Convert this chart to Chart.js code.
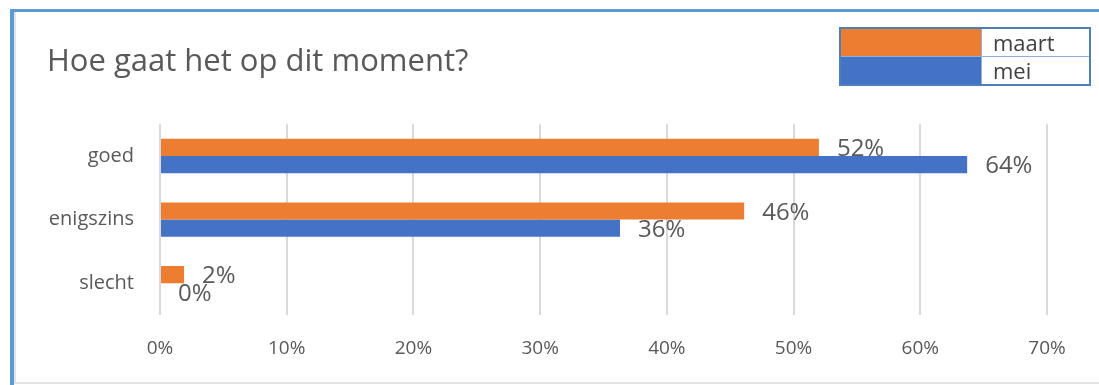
<!DOCTYPE html>
<html>
<head>
<meta charset="utf-8">
<script src="https://cdn.jsdelivr.net/npm/chart.js@4"></script>
<style>
  html, body { margin:0; padding:0; background:#fff; overflow:hidden; }
  #wrap { position:relative; width:1099px; height:385px; }
  #frame { position:absolute; left:10px; top:9px; width:1095px; height:374px;
           border-left:4px solid #5b9bd5; border-top:3px solid #5b9bd5; pointer-events:none; }
  #frame2 { position:absolute; left:14px; top:12px; width:1095px; height:370px;
           border-left:2px solid #e3e3e3; border-bottom:2px solid #e3e3e3; pointer-events:none; }
  #box { position:absolute; left:0; top:0; width:1099px; height:385px; }
  #legend { position:absolute; left:839px; top:27px; }
  #legend table { border-collapse:collapse; border:2px solid #4f7fb8; }
  #legend td { padding:0; height:27px; border:1px solid #8db0dc; }
  #legend td.sw { width:140px; }
  #legend td.lb { width:96px; padding-left:11px; font:22px "Open Sans", sans-serif; color:#404040; line-height:27px; }
</style>
</head>
<body>
<div id="wrap">
  <div id="box"><canvas id="myChart"></canvas></div>
  <div id="frame"></div>
  <div id="frame2"></div>
  <div id="legend"></div>
</div>
<script>
var categories = ['goed', 'enigszins', 'slecht']
var maart = [52.0, 46.1, 1.9]
var mei = [63.7, 36.3, 0]
var seriesNames = ['maart', 'mei']
var xTicks = [0, 10, 20, 30, 40, 50, 60, 70]

var textGray = '#595959'

// labels at the end of each bar, like excel does it
var barLabels = {
    id: 'barLabels',
    afterDatasetsDraw: function(chart){
        var ctx = chart.ctx
        ctx.save()
        ctx.font = '24px "Open Sans"'
        ctx.fillStyle = textGray
        ctx.textAlign = 'left'
        ctx.textBaseline = 'middle'
        chart.data.datasets.forEach(function(ds, i){
            var meta = chart.getDatasetMeta(i)
            meta.data.forEach(function(bar, j){
                ctx.fillText(Math.round(ds.data[j]) + '%', bar.x + 18, bar.y + 2)
            })
        })
        ctx.restore()
    }
}

var ctx = document.getElementById('myChart').getContext('2d')
var chart1 = new Chart(ctx, {
    type: 'bar',
    plugins: [barLabels],
    data: {
        labels: categories,
        datasets: [{
            label: seriesNames[0],
            data: maart,
            backgroundColor: '#ed7d31',
            categoryPercentage: 0.54,
            barPercentage: 1
        }, {
            label: seriesNames[1],
            data: mei,
            backgroundColor: '#4472c4',
            categoryPercentage: 0.54,
            barPercentage: 1
        }]
    },
    options: {
        indexAxis: 'y',
        responsive: true,
        maintainAspectRatio: false,
        animation: false,
        layout: {
            padding: { left: 47, right: 52, top: 0, bottom: 0 }
        },
        scales: {
            x: {
                min: 0,
                max: 70,
                afterBuildTicks: function(axis){
                    axis.ticks = xTicks.map(function(v){ return { value: v } })
                },
                afterFit: function(axis){ axis.height = 70 },
                grid: { color: '#d9d9d9', lineWidth: 2, drawTicks: false },
                border: { display: false },
                ticks: {
                    padding: 22,
                    color: textGray,
                    font: { family: 'Open Sans', size: 19 },
                    callback: function(v){ return v + '%' }
                }
            },
            y: {
                afterFit: function(axis){ axis.width = 113 },
                grid: { display: false, drawTicks: false },
                border: { display: false },
                ticks: {
                    padding: 26,
                    color: textGray,
                    font: { family: 'Open Sans', size: 20 }
                }
            }
        },
        plugins: {
            legend: { display: false },
            tooltip: { enabled: false },
            title: {
                display: true,
                text: 'Hoe gaat het op dit moment?',
                align: 'start',
                color: textGray,
                font: { family: 'Open Sans', size: 31, weight: 'normal' },
                padding: { top: 44, bottom: 43 }
            }
        }
    }
})

// html legend, built from the datasets
var html = '<table>'
chart1.data.datasets.forEach(function(ds){
    html += '<tr><td class="sw" style="background:' + ds.backgroundColor + '"></td><td class="lb">' + ds.label + '</td></tr>'
})
html += '</table>'
document.getElementById('legend').innerHTML = html
</script>
</body>
</html>
